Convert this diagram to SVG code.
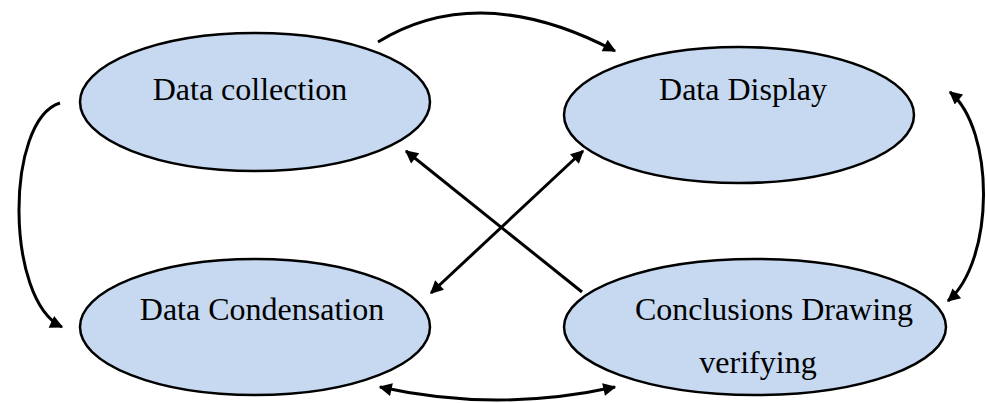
<svg xmlns="http://www.w3.org/2000/svg" width="987" height="403" viewBox="0 0 987 403">
<style>
.node ellipse{fill:#c6d9f0;stroke:#000;stroke-width:2.5}
.node text{font-family:"Liberation Serif","Times New Roman",serif;font-size:32px;fill:#000;text-anchor:middle}
.conn path{fill:none;stroke:#000;stroke-width:3}
</style>
<defs>
<marker id="ah" viewBox="0 0 10 10" refX="9" refY="5" markerWidth="15" markerHeight="13" markerUnits="userSpaceOnUse" orient="auto-start-reverse">
<path d="M0,0 L10,5 L0,10 z" fill="#000"/>
</marker>
</defs>
<rect width="987" height="403" fill="#fff"/>
<g class="conn">
<path d="M378,42 Q480,-20 615,51" marker-end="url(#ah)"/>
<path d="M60,103 C5,120 5,300 62,327" marker-end="url(#ah)"/>
<path d="M950,92 C995,130 995,260 948,301" marker-start="url(#ah)" marker-end="url(#ah)"/>
<path d="M380,387 Q497,413 615,387" marker-start="url(#ah)" marker-end="url(#ah)"/>
<path d="M582,292 L406,151" marker-end="url(#ah)"/>
<path d="M583,151 L431,293" marker-start="url(#ah)" marker-end="url(#ah)"/>
</g>
<g id="data-collection" class="node">
<ellipse cx="255" cy="102" rx="175" ry="69"/>
<text x="250" y="100">Data collection</text>
</g>
<g id="data-display" class="node">
<ellipse cx="739" cy="115" rx="175" ry="68"/>
<text x="743" y="100">Data Display</text>
</g>
<g id="data-condensation" class="node">
<ellipse cx="255" cy="327" rx="175" ry="68"/>
<text x="262" y="320">Data Condensation</text>
</g>
<g id="conclusions" class="node">
<ellipse cx="755" cy="327" rx="191" ry="68"/>
<text x="774" y="320">Conclusions Drawing</text>
<text x="758" y="373">verifying</text>
</g>
</svg>
